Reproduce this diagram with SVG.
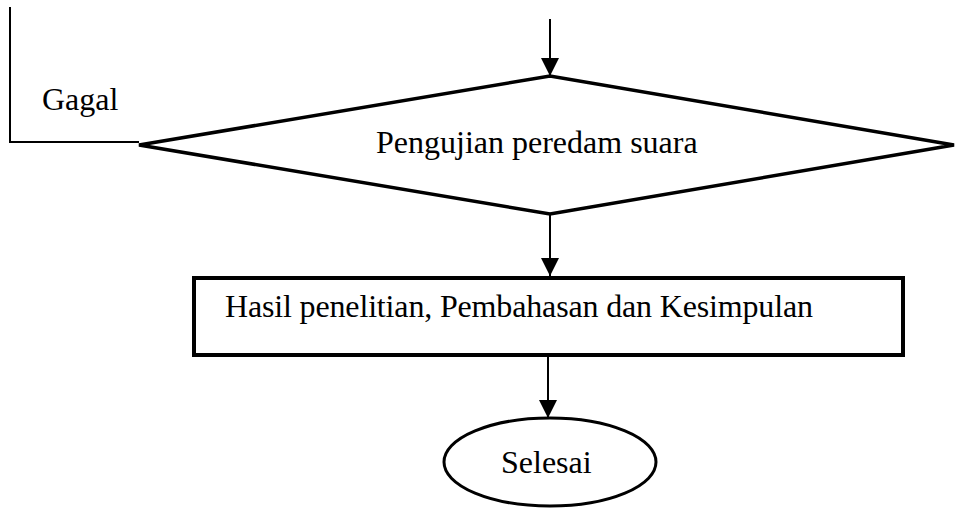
<svg xmlns="http://www.w3.org/2000/svg" width="955" height="508" viewBox="0 0 955 508">
<style>
text{font-family:"Liberation Serif","Times New Roman",serif;font-size:32px;fill:#000}
.ln{stroke:#000;stroke-width:2;fill:none}
.sh{stroke:#000;fill:#fff}
</style>
<defs>
<marker id="ah" markerUnits="userSpaceOnUse" markerWidth="18" markerHeight="18" refX="18" refY="9" orient="auto">
<path d="M0,0 L18,9 L0,18 Z" fill="#000"/>
</marker>
</defs>
<g id="connectors">
<path class="ln" d="M550,19 L550,76" marker-end="url(#ah)"/>
<path class="ln" d="M10,7 L10,142 L139,142"/>
<path class="ln" d="M550,214 L550,276" marker-end="url(#ah)"/>
<path class="ln" d="M548,356 L548,418" marker-end="url(#ah)"/>
</g>
<g id="gagal-label"><text x="42" y="110">Gagal</text></g>
<g id="decision">
<polygon class="sh" stroke-width="3.5" points="139,145 550,76 954,145 550,214"/>
<text x="376" y="153">Pengujian peredam suara</text>
</g>
<g id="hasil">
<rect class="sh" stroke-width="4" x="194" y="278" width="709" height="77"/>
<text x="225" y="317" textLength="588" lengthAdjust="spacing">Hasil penelitian, Pembahasan dan Kesimpulan</text>
</g>
<g id="selesai">
<ellipse class="sh" stroke-width="3" cx="550" cy="462" rx="106" ry="44"/>
<text x="501" y="473">Selesai</text>
</g>
</svg>
